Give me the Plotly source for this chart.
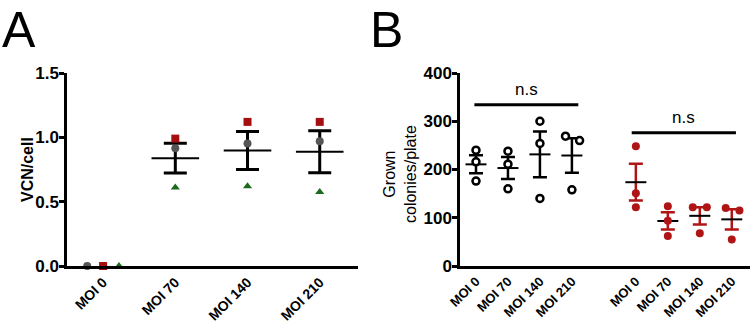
import numpy as np
import plotly.graph_objects as go

# ---------------- data ----------------
categories = ["MOI 0", "MOI 70", "MOI 140", "MOI 210"]

# Panel A: VCN per cell, three replicate series
vcn_circle = [0.0, 0.915, 0.953, 0.969]
vcn_square = [0.0, 0.99, 1.12, 1.12]
vcn_triangle = [0.0, 0.61, 0.62, 0.575]

# Panel B: grown colonies per plate (3 replicates per MOI)
colonies_group1 = [[240, 216, 176], [238, 211, 160], [300, 254, 140], [269, 260, 158]]
colonies_group2 = [[248, 151, 122], [124, 94, 62], [122, 122, 68], [120, 115, 55]]

ns_label = "n.s"

# ---------------- layout constants ----------------
W, H = 750, 324
FONT = "Arial, Liberation Sans, sans-serif"
posA = np.arange(len(categories))
posB1 = np.arange(len(categories))
posB2 = np.arange(len(categories)) + 5

# horizontal jitter (in category units) for overlapping points
jitA = {"circle": [-0.22, 0, 0, 0], "square": [0, 0, 0, 0], "triangle": [0.22, 0, 0, 0]}
jitB1 = [[0, 0, 0], [0, 0, 0], [0, 0, 0], [-0.2, 0.24, 0]]
jitB2 = [[0, 0, 0], [0, 0, 0], [-0.22, 0.22, 0], [-0.19, 0.24, 0]]

def mean_sem(rows):
    a = np.array(rows, dtype=float)
    m = a.mean(axis=1)
    s = a.std(axis=1, ddof=1) / np.sqrt(a.shape[1])
    return m, s

fig = go.Figure()

# ---------------- Panel A ----------------
A_all = np.array([vcn_circle, vcn_square, vcn_triangle]).T
mA, sA = mean_sem(A_all)
mask = np.array(vcn_circle) > 0  # MOI 0 has no spread/mean bar drawn
fig.add_trace(go.Scatter(
    x=posA[mask], y=mA[mask], mode="markers", xaxis="x", yaxis="y",
    marker=dict(symbol="line-ew", size=34, color="black", line=dict(width=2, color="black")),
    error_y=dict(type="data", array=sA[mask], color="black", thickness=3, width=11.5),
    showlegend=False, cliponaxis=False))

for vals, sym, col, size, key in [
    (vcn_circle, "circle", "#555555", 8, "circle"),
    (vcn_square, "square", "#a50f0f", 8, "square"),
    (vcn_triangle, "triangle-up", "#1c6b1c", 8, "triangle"),
]:
    fig.add_trace(go.Scatter(
        x=posA + np.array(jitA[key]), y=vals, mode="markers", xaxis="x", yaxis="y",
        marker=dict(symbol=sym, size=size, color=col, line=dict(width=0)),
        showlegend=False, cliponaxis=False))

# ---------------- Panel B ----------------
m1, s1 = mean_sem(colonies_group1)
m2, s2 = mean_sem(colonies_group2)

fig.add_trace(go.Scatter(
    x=posB1, y=m1, mode="markers", xaxis="x2", yaxis="y2",
    marker=dict(symbol="line-ew", size=15, color="black", line=dict(width=2, color="black")),
    error_y=dict(type="data", array=s1, color="black", thickness=2.5, width=7),
    showlegend=False, cliponaxis=False))
fig.add_trace(go.Scatter(
    x=posB2, y=m2, mode="markers", xaxis="x2", yaxis="y2",
    marker=dict(symbol="line-ew", size=15, color="black", line=dict(width=2, color="black")),
    error_y=dict(type="data", array=s2, color="#b01515", thickness=2.5, width=7),
    showlegend=False, cliponaxis=False))

xb1, yb1 = [], []
for p, row, jr in zip(posB1, colonies_group1, jitB1):
    for v, j in zip(row, jr):
        xb1.append(p + j); yb1.append(v)
fig.add_trace(go.Scatter(
    x=xb1, y=yb1, mode="markers", xaxis="x2", yaxis="y2",
    marker=dict(symbol="circle", size=7, color="white", line=dict(width=2.5, color="black")),
    showlegend=False, cliponaxis=False))

xb2, yb2 = [], []
for p, row, jr in zip(posB2, colonies_group2, jitB2):
    for v, j in zip(row, jr):
        xb2.append(p + j); yb2.append(v)
fig.add_trace(go.Scatter(
    x=xb2, y=yb2, mode="markers", xaxis="x2", yaxis="y2",
    marker=dict(symbol="circle", size=8, color="#b01515", line=dict(width=0)),
    showlegend=False, cliponaxis=False))

# significance bars
sig = [(-0.05, 3.2, 334, 366), (4.87, 8.13, 276, 308)]
for x0, x1, yl, yt in sig:
    fig.add_shape(type="line", xref="x2", yref="y2", x0=x0, x1=x1, y0=yl, y1=yl,
                  line=dict(color="black", width=3))
    fig.add_annotation(xref="x2", yref="y2", x=(x0 + x1) / 2, y=yt, text=ns_label,
                       showarrow=False, font=dict(family=FONT, size=17, color="black"))

# ---------------- axes ----------------
yd = [1 - 266 / H, 1 - 73 / H]
axis_common = dict(showline=True, linecolor="black", linewidth=2.5, showgrid=False,
                   zeroline=False, mirror=False, automargin=False)
ytickfont = dict(family=FONT, size=17, color="black", weight="bold")

fig.update_layout(
    width=W, height=H, margin=dict(l=0, r=0, t=0, b=0, pad=0, autoexpand=False),
    paper_bgcolor="white", plot_bgcolor="white",
    font=dict(family=FONT, color="black"),
    xaxis=dict(domain=[67 / W, 358 / W], range=[-0.5, 3.53], tickvals=posA, ticktext=categories,
               tickangle=-45, ticks="", ticklabelstandoff=0,
               tickfont=dict(family=FONT, size=14, color="black", weight="bold"),
               anchor="y", **axis_common),
    yaxis=dict(domain=yd, range=[0, 1.5], tickvals=[0, 0.5, 1.0, 1.5],
               ticktext=["0.0", "0.5", "1.0", "1.5"], ticks="outside", ticklen=5, tickwidth=2.5,
               tickcolor="black", tickfont=ytickfont, ticklabelstandoff=-3,
               anchor="x", **axis_common),
    xaxis2=dict(domain=[460 / W, 1.0], range=[-0.5, 8.57],
                tickvals=list(posB1) + list(posB2), ticktext=categories + categories,
                tickangle=-45, ticks="", ticklabelstandoff=0,
                tickfont=dict(family=FONT, size=13, color="black", weight="bold"),
                anchor="y2", **axis_common),
    yaxis2=dict(domain=yd, range=[0, 400], tickvals=[0, 100, 200, 300, 400],
                ticks="outside", ticklen=5, tickwidth=2.5, tickcolor="black",
                tickfont=ytickfont, ticklabelstandoff=-3, anchor="x2", **axis_common),
)

# axis titles and panel letters
fig.add_annotation(xref="paper", yref="paper", x=27 / W, y=1 - 169 / H, text="VCN/cell",
                   textangle=-90, showarrow=False, xanchor="center", yanchor="middle",
                   font=dict(family=FONT, size=16, color="black", weight="bold"))
fig.add_annotation(xref="paper", yref="paper", x=400 / W, y=1 - 174 / H,
                   text="Grown<br>colonies/plate", textangle=-90, showarrow=False,
                   xanchor="center", yanchor="middle",
                   font=dict(family=FONT, size=16, color="black"))
fig.add_annotation(xref="paper", yref="paper", x=0, y=1, xanchor="left", yanchor="top",
                   text="A", showarrow=False, font=dict(family=FONT, size=50, color="black"),
                   xshift=0, yshift=0)
fig.add_annotation(xref="paper", yref="paper", x=370 / W, y=1, xanchor="left", yanchor="top",
                   text="B", showarrow=False, font=dict(family=FONT, size=50, color="black"),
                   xshift=-2, yshift=0)

fig.write_html("out.html")
